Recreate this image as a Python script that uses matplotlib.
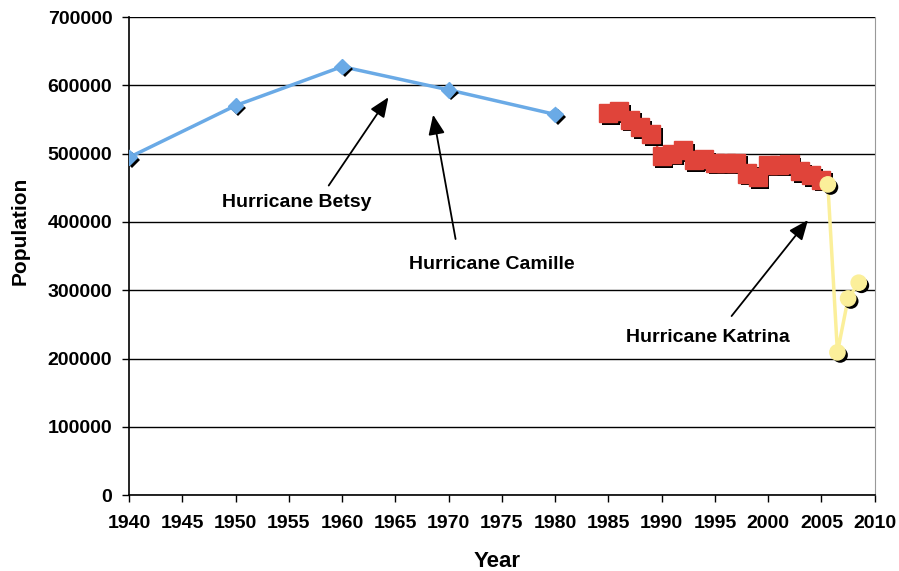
import matplotlib
matplotlib.use('Agg')
import matplotlib.pyplot as plt
import matplotlib.patheffects as pe

plt.rcParams['font.family'] = ['Liberation Sans', 'DejaVu Sans']
plt.rcParams['font.weight'] = 'bold'

census_years = [1940, 1950, 1960, 1970, 1980]
census_pop = [494537, 570445, 627525, 593471, 557515]

est_years = list(range(1985, 2006))
est_pop = [560000, 562000, 550000, 539000, 529000, 497000, 500000, 505000, 491000,
           492000, 487000, 487000, 487000, 471000, 466000, 484000, 484000, 485000,
           474000, 469000, 462000]

post_years = [2005.6, 2006.5, 2007.5, 2008.5]
post_pop = [455000, 209000, 288000, 311000]

shadow = [pe.SimplePatchShadow(offset=(2, -2), shadow_rgbFace='black', alpha=1.0), pe.Normal()]

fig = plt.figure(figsize=(8.99, 5.71), dpi=100)
ax = fig.add_axes([0.1435, 0.133, 0.8295, 0.837])

ax.plot(census_years, census_pop, color='#6aaae6', lw=2.5, zorder=3)
ax.plot(census_years, census_pop, ls='none', marker='D', ms=8, color='#6aaae6',
        path_effects=shadow, zorder=4)

ax.plot(est_years, est_pop, color='#e0443a', lw=1.5, zorder=3)
ax.plot(est_years, est_pop, ls='none', marker='s', ms=13, color='#e0443a',
        path_effects=shadow, zorder=4)

ax.plot(post_years, post_pop, color='#fbef9a', lw=2.5, zorder=5)
ax.plot(post_years, post_pop, ls='none', marker='o', ms=11, color='#fbef9a',
        path_effects=shadow, zorder=6)

arrow = dict(arrowstyle='-|>,head_length=1.2,head_width=0.5', color='black', lw=1.3)
ax.annotate('', xy=(1964.5, 586000), xytext=(1958.6, 450000), arrowprops=arrow)
ax.text(1955.7, 429000, 'Hurricane Betsy', ha='center', va='center', fontsize=14, fontweight='bold')
ax.annotate('', xy=(1968.5, 561000), xytext=(1970.7, 371000), arrowprops=arrow)
ax.text(1974.1, 337000, 'Hurricane Camille', ha='center', va='center', fontsize=14, fontweight='bold')
ax.annotate('', xy=(2003.9, 406000), xytext=(1996.4, 259000), arrowprops=arrow)
ax.text(1994.3, 231000, 'Hurricane Katrina', ha='center', va='center', fontsize=14, fontweight='bold')

ax.set_xlim(1940, 2010)
ax.set_ylim(0, 700000)
ax.set_xticks(range(1940, 2011, 5))
ax.set_yticks(range(0, 700001, 100000))
ax.yaxis.grid(True, color='black', lw=1)
ax.set_axisbelow(True)
ax.tick_params(labelsize=14, direction='out', length=5, width=1)
ax.tick_params(axis='x', pad=9)
ax.tick_params(axis='y', pad=7)
for lab in ax.get_xticklabels() + ax.get_yticklabels():
    lab.set_fontweight('bold')
ax.spines['top'].set_visible(False)
ax.spines['right'].set_color('#999999')
ax.spines['left'].set_linewidth(1.2)
ax.spines['bottom'].set_linewidth(1.2)

ax.set_xlabel('Year', fontsize=16, fontweight='bold')
ax.set_ylabel('Population', fontsize=15, fontweight='bold')
ax.xaxis.set_label_coords(0.493, -0.117)
ax.yaxis.set_label_coords(-0.133, 0.553)

fig.savefig('out.png', dpi=100)
